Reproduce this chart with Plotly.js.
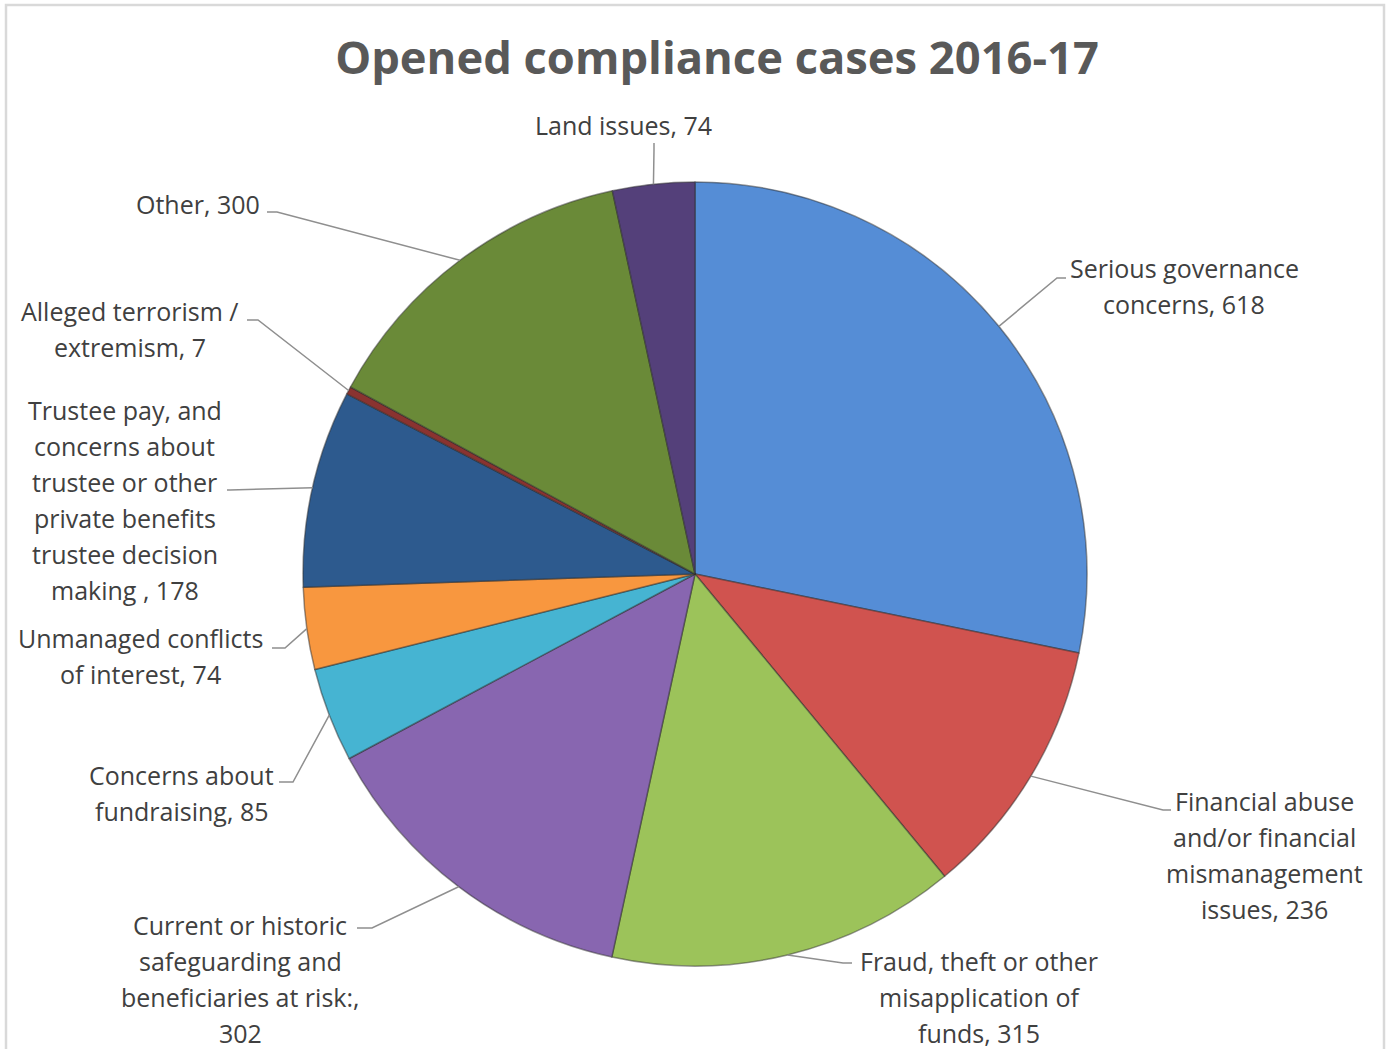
<!DOCTYPE html>
<html>
<head>
<meta charset="utf-8">
<script src="https://cdn.plot.ly/plotly-3.0.1.min.js"></script>
<style>
  html, body { margin: 0; padding: 0; background: #ffffff; }
  #chart { width: 1391px; height: 1049px; }
</style>
</head>
<body>
<div id="chart"></div>
<script>
// ---------------- DATA ----------------
const categories = [
  "Serious governance concerns",
  "Financial abuse and/or financial mismanagement issues",
  "Fraud, theft or other misapplication of funds",
  "Current or historic safeguarding and beneficiaries at risk:",
  "Concerns about fundraising",
  "Unmanaged conflicts of interest",
  "Trustee pay, and concerns about trustee or other private benefits trustee decision making ",
  "Alleged terrorism / extremism",
  "Other",
  "Land issues"
];
const values = [618, 236, 315, 302, 85, 74, 178, 7, 300, 74];
const titleText = "Opened compliance cases 2016-17";

// ---------------- STYLE / LAYOUT ----------------
const W = 1391, H = 1049;
const sliceColors = ["#558DD6", "#D0534F", "#9CC35A", "#8866B0", "#46B4D2",
                     "#F8973F", "#2D5A8E", "#8A3330", "#6A8A38", "#54407A"];
const pieCx = 695, pieCy = 574, pieR = 392;
const labelFont = "'Open Sans', Lato, sans-serif";
const lineGap = 36;
// per label: centre x of text, centre y of first line, words per line, leader elbow and end (px)
const labelLayout = [
  {cx: 1184, y0: 268, wrap: [2, 2],             elbow: [1057, 278], end: [1066, 278]},
  {cx: 1264, y0: 801, wrap: [2, 2, 1, 2],       elbow: [1163, 810], end: [1171, 810]},
  {cx: 979,  y0: 961, wrap: [4, 2, 2],          elbow: [843, 963],  end: [852, 963]},
  {cx: 240,  y0: 925, wrap: [3, 2, 3, 1],       elbow: [372, 928],  end: [357, 928]},
  {cx: 182,  y0: 775, wrap: [2, 2],             elbow: [293, 782],  end: [279, 782]},
  {cx: 140,  y0: 638, wrap: [2, 3],             elbow: [285, 648],  end: [272, 648]},
  {cx: 125,  y0: 410, wrap: [3, 2, 3, 2, 2, 3], elbow: [230, 490],  end: [227, 490]},
  {cx: 130,  y0: 311, wrap: [3, 2],             elbow: [258, 320],  end: [247, 320]},
  {cx: 198,  y0: 204, wrap: [2],                elbow: [277, 212],  end: [267, 212]},
  {cx: 623,  y0: 125, wrap: [3],                elbow: [654, 150],  end: [654, 143]}
];

const px = x => x / W;
const py = y => 1 - y / H;

// ---------------- TRACE ----------------
const trace = {
  type: "pie",
  labels: categories,
  values: values,
  sort: false,
  direction: "clockwise",
  rotation: 0,
  textinfo: "none",
  hoverinfo: "label+value",
  marker: { colors: sliceColors, line: { color: "rgba(45,45,45,0.5)", width: 1.5 } },
  domain: { x: [px(pieCx - pieR), px(pieCx + pieR)], y: [py(pieCy + pieR), py(pieCy - pieR)] },
  showlegend: false
};

// ---------------- LABELS + LEADERS ----------------
const total = values.reduce((a, b) => a + b, 0);
const annotations = [];
const shapes = [];
let cum = 0;
values.forEach((v, i) => {
  const mid = (cum + v / 2) / total * 2 * Math.PI;
  cum += v;
  const ex = pieCx + pieR * Math.sin(mid);
  const ey = pieCy - pieR * Math.cos(mid);
  const L = labelLayout[i];
  const words = (categories[i] + ", " + values[i]).split(" ").filter(w => w.length);
  let k = 0;
  L.wrap.forEach((n, li) => {
    const line = words.slice(k, k + n).join(" ");
    k += n;
    annotations.push({
      xref: "paper", yref: "paper",
      x: px(L.cx), y: py(L.y0 + li * lineGap),
      xanchor: "center", yanchor: "middle",
      text: line, showarrow: false,
      font: { family: labelFont, size: 25, color: "#404040" }
    });
  });
  shapes.push({
    type: "path", xref: "paper", yref: "paper",
    path: `M ${px(ex)} ${py(ey)} L ${px(L.elbow[0])} ${py(L.elbow[1])} L ${px(L.end[0])} ${py(L.end[1])}`,
    line: { color: "#8f8f8f", width: 1.5 }
  });
});

// chart border
shapes.push({
  type: "rect", xref: "paper", yref: "paper",
  x0: px(6), x1: px(1384), y0: py(1070), y1: py(5),
  line: { color: "#d9d9d9", width: 2.5 }, fillcolor: "rgba(0,0,0,0)", layer: "below"
});

const layout = {
  width: W, height: H,
  margin: { l: 0, r: 0, t: 0, b: 0 },
  paper_bgcolor: "#ffffff",
  plot_bgcolor: "#ffffff",
  title: {
    text: "<b>" + titleText + "</b>",
    x: px(717), xanchor: "center",
    y: py(58), yanchor: "middle", yref: "paper",
    font: { family: labelFont, size: 45.3, color: "#595959" }
  },
  annotations: annotations,
  shapes: shapes
};

Plotly.newPlot("chart", [trace], layout, { displayModeBar: false, staticPlot: true });
</script>
</body>
</html>
